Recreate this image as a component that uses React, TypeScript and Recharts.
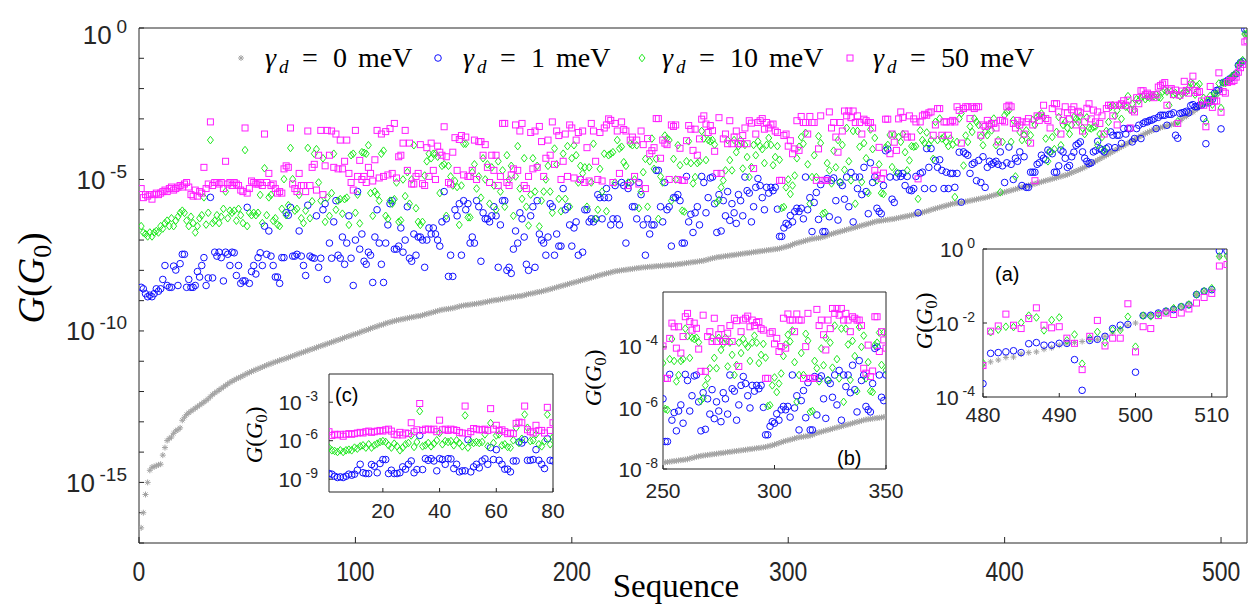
import { CartesianGrid, Scatter, ScatterChart, XAxis, YAxis } from "recharts";

// log10 of G/G0 for every sequence index 1..512 (sorted by the gamma_d = 0 curve)
const gray0 = [
  -16.5, -16.0, -15.4, -15.0, -14.6, -14.5, -14.48, -14.45, -14.42, -14.4,
  -14.1, -13.85, -13.62, -13.55, -13.5, -13.38, -13.3, -13.26, -13.2, -12.95,
  -12.85, -12.76, -12.7, -12.65, -12.6, -12.55, -12.5, -12.45, -12.4, -12.35,
  -12.3, -12.24, -12.17, -12.1, -12.05, -12.0, -11.95, -11.9, -11.85, -11.8,
  -11.75, -11.7, -11.66, -11.62, -11.58, -11.55, -11.52, -11.48, -11.44, -11.4,
  -11.37, -11.34, -11.31, -11.28, -11.25, -11.22, -11.19, -11.16, -11.13, -11.1,
  -11.08, -11.05, -11.02, -11.0, -10.97, -10.95, -10.93, -10.9, -10.88, -10.85,
  -10.83, -10.8, -10.77, -10.75, -10.72, -10.7, -10.67, -10.65, -10.62, -10.6,
  -10.57, -10.55, -10.52, -10.5, -10.47, -10.45, -10.42, -10.4, -10.37, -10.35,
  -10.32, -10.3, -10.27, -10.25, -10.22, -10.2, -10.17, -10.15, -10.12, -10.1,
  -10.08, -10.05, -10.02, -10.0, -9.97, -9.95, -9.92, -9.9, -9.87, -9.85,
  -9.82, -9.8, -9.78, -9.75, -9.73, -9.71, -9.69, -9.67, -9.65, -9.64,
  -9.62, -9.61, -9.59, -9.58, -9.56, -9.55, -9.54, -9.52, -9.51, -9.5,
  -9.48, -9.46, -9.44, -9.42, -9.4, -9.38, -9.36, -9.34, -9.32, -9.3,
  -9.29, -9.28, -9.27, -9.26, -9.25, -9.23, -9.21, -9.19, -9.17, -9.16,
  -9.15, -9.14, -9.13, -9.12, -9.11, -9.1, -9.09, -9.08, -9.06, -9.05,
  -9.03, -9.02, -9.0, -8.99, -8.98, -8.97, -8.96, -8.94, -8.93, -8.92,
  -8.9, -8.89, -8.88, -8.87, -8.86, -8.85, -8.84, -8.82, -8.8, -8.78,
  -8.77, -8.76, -8.74, -8.72, -8.71, -8.7, -8.68, -8.66, -8.64, -8.62,
  -8.6, -8.58, -8.56, -8.54, -8.52, -8.5, -8.48, -8.46, -8.44, -8.42,
  -8.4, -8.38, -8.36, -8.34, -8.32, -8.3, -8.28, -8.26, -8.24, -8.22,
  -8.2, -8.18, -8.16, -8.14, -8.12, -8.1, -8.09, -8.07, -8.05, -8.03,
  -8.02, -8.01, -8.0, -7.99, -7.98, -7.97, -7.96, -7.95, -7.94, -7.93,
  -7.92, -7.91, -7.9, -7.9, -7.89, -7.88, -7.88, -7.87, -7.86, -7.86,
  -7.85, -7.85, -7.84, -7.83, -7.83, -7.82, -7.82, -7.81, -7.8, -7.79,
  -7.78, -7.77, -7.76, -7.75, -7.74, -7.73, -7.72, -7.71, -7.7, -7.69,
  -7.68, -7.66, -7.64, -7.62, -7.6, -7.59, -7.57, -7.56, -7.55, -7.54,
  -7.53, -7.52, -7.51, -7.5, -7.49, -7.48, -7.47, -7.46, -7.45, -7.44,
  -7.43, -7.42, -7.41, -7.4, -7.39, -7.38, -7.37, -7.36, -7.35, -7.34,
  -7.33, -7.32, -7.31, -7.3, -7.29, -7.28, -7.26, -7.24, -7.22, -7.2,
  -7.18, -7.15, -7.12, -7.1, -7.08, -7.06, -7.04, -7.02, -7.0, -6.98,
  -6.96, -6.95, -6.94, -6.93, -6.92, -6.9, -6.88, -6.85, -6.82, -6.8,
  -6.78, -6.76, -6.74, -6.72, -6.7, -6.68, -6.66, -6.64, -6.62, -6.6,
  -6.58, -6.56, -6.54, -6.52, -6.5, -6.48, -6.46, -6.44, -6.42, -6.4,
  -6.38, -6.37, -6.36, -6.35, -6.34, -6.33, -6.32, -6.31, -6.3, -6.28,
  -6.27, -6.25, -6.24, -6.22, -6.21, -6.19, -6.18, -6.16, -6.15, -6.13,
  -6.11, -6.09, -6.07, -6.05, -6.03, -6.0, -5.98, -5.96, -5.94, -5.92,
  -5.9, -5.88, -5.86, -5.84, -5.82, -5.8, -5.79, -5.78, -5.77, -5.76,
  -5.75, -5.73, -5.72, -5.7, -5.69, -5.67, -5.66, -5.64, -5.63, -5.61,
  -5.6, -5.58, -5.56, -5.54, -5.52, -5.5, -5.48, -5.46, -5.44, -5.42,
  -5.4, -5.38, -5.36, -5.34, -5.32, -5.3, -5.28, -5.26, -5.24, -5.22,
  -5.2, -5.18, -5.16, -5.14, -5.12, -5.1, -5.08, -5.06, -5.04, -5.02,
  -5.0, -4.98, -4.96, -4.94, -4.92, -4.9, -4.88, -4.86, -4.84, -4.81,
  -4.78, -4.75, -4.72, -4.69, -4.66, -4.63, -4.6, -4.56, -4.52, -4.48,
  -4.44, -4.4, -4.36, -4.32, -4.28, -4.24, -4.2, -4.16, -4.12, -4.08,
  -4.04, -4.0, -3.96, -3.92, -3.88, -3.84, -3.8, -3.76, -3.72, -3.68,
  -3.64, -3.6, -3.56, -3.52, -3.48, -3.45, -3.42, -3.39, -3.36, -3.33,
  -3.31, -3.29, -3.27, -3.25, -3.23, -3.21, -3.19, -3.17, -3.16,
  -3.15, -3.05, -3.0, -2.93, -2.92, -2.84, -2.8, -2.78, -2.71, -2.67,
  -2.6, -2.55, -2.53, -2.5, -2.45, -2.44, -2.36, -2.27, -2.16, -2.06,
  -2.0, -1.8, -1.79, -1.73, -1.67, -1.6, -1.55, -1.48, -1.23, -1.14,
  -1.1, -0.2, -0.16,
];

const blue1 = [
  -8.56, -8.61, -8.77, -8.87, -8.82, -8.87, -8.77, -8.61, -8.69, -8.61,
  -8.3, -7.84, -8.5, -8.56, -8.56, -7.86, -7.99, -8.5, -7.78, -7.47,
  -7.47, -8.56, -8.3, -8.56, -8.56, -8.5, -8.04, -8.22, -7.84, -7.58,
  -8.5, -8.25, -5.59, -8.25, -7.4, -7.53, -7.4, -7.58, -8.35, -7.4,
  -7.47, -7.84, -7.4, -7.42, -8.17, -7.84, -8.43, -8.35, -8.35, -5.92,
  -8.43, -8.04, -7.84, -8.12, -7.58, -7.42, -7.84, -6.54, -7.47, -6.7,
  -7.53, -7.84, -8.22, -8.22, -8.43, -7.58, -7.58, -6.1, -6.18, -5.92,
  -7.53, -7.53, -7.47, -6.7, -7.53, -7.84, -8.17, -5.85, -7.53, -7.58,
  -7.6, -6.2, -7.9, -7.6, -6.0, -5.8, -8.3, -7.1, -7.6, -6.4,
  -5.7, -7.5, -7.6, -6.9, -7.8, -7.1, -6.2, -7.6, -8.5, -7.0,
  -5.4, -7.3, -6.8, -7.7, -7.8, -7.4, -7.5, -8.4, -6.9, -6.0,
  -7.1, -7.8, -8.4, -7.1, -6.5, -5.8, -5.7, -7.3, -7.3, -7.2,
  -6.6, -7.4, -7.0, -5.9, -7.6, -7.7, -6.8, -7.5, -6.9, -6.9,
  -7.0, -7.9, -7.0, -6.6, -6.8, -6.6, -6.8, -7.0, -7.2, -6.4,
  -5.4, -6.3, -8.2, -7.5, -8.2, -6.0, -6.2, -5.8, -7.5, -5.7,
  -6.0, -5.8, -7.1, -6.9, -7.1, -5.7, -5.9, -7.7, -6.1, -6.3,
  -6.3, -6.4, -6.2, -5.9, -6.2, -7.9, -6.5, -5.7, -5.7, -8.0,
  -7.9, -8.1, -7.3, -6.7, -7.1, -6.1,
  -6.3, -6.9, -7.8, -8.0, -6.2, -5.9, -7.9, -5.7, -6.8, -7.0,
  -7.1, -7.5, -6.9, -5.8, -5.9, -7.5, -6.8, -7.2, -7.2, -5.3,
  -6.0, -5.9, -6.5, -7.2, -6.6, -6.4, -7.5, -5.0, -7.4, -6.0,
  -6.0, -6.4, -6.3, -6.4, -6.3, -5.5, -5.6, -6.3, -5.6, -5.3,
  -5.6, -6.5, -6.3, -5.2, -6.3, -6.5, -5.1, -5.2, -7.1, -5.3,
  -5.1, -5.9, -5.9, -6.3, -5.1, -5.5, -6.5, -7.5, -6.3, -6.8,
  -6.5, -6.5, -4.7, -4.7, -5.9, -6.4, -5.1, -6.0, -5.9, -7.2,
  -5.6, -5.6, -5.5,
  -5.7, -7.1, -7.1, -4.9, -6.4, -6.15, -6.75, -6.1, -5.9, -6.5,
  -4.9, -5.1, -6.1, -5.6, -4.95, -4.92, -5.8, -6.75, -5.5, -6.7,
  -5.7, -6.2, -5.4, -6.35, -5.8, -6.1, -6.45, -5.5, -5.7, -6.2,
  -4.92, -5.37, -5.45, -6.4, -5.9, -5.26, -4.97, -5.2, -5.6, -6.0,
  -5.26, -5.45, -5.26, -5.37, -5.26, -5.98, -6.88, -6.88, -6.6, -6.45,
  -6.5, -6.19, -6.4, -6.06, -5.95, -6.06, -5.95, -6.3, -4.92, -6.0,
  -5.6, -6.72, -5.76, -5.43, -6.32, -5.17, -6.72, -6.72, -4.97, -6.23,
  -5.03, -4.95, -5.7, -6.34, -5.1, -5.2, -5.65, -4.92, -5.9, -4.77,
  -6.4, -4.92, -5.3, -4.92, -5.5, -4.6, -5.4, -6.13, -4.45, -5.1,
  -4.92, -5.95, -6.06, -6.13, -5.2, -4.05, -4.0, -4.92, -5.65, -5.76,
  -4.92,
  -4.8, -4.9, -4.8, -5.2, -4.9, -5.35, -5.37, -5.3, -4.9, -6.1,
  -4.8, -4.76, -5.3, -3.98, -4.6, -3.98, -5.3, -4.37, -4.6, -4.35,
  -4.7, -5.3, -4.76, -5.3, -4.8, -4.8, -5.26, -4.8, -4.1, -5.75,
  -4.09, -4.15, -4.2, -4.8, -4.5, -4.45, -5.04, -4.37, -5.1, -4.25,
  -5.26, -4.6, -4.4, -4.5, -4.45, -4.4, -4.5, -4.09, -4.55, -5.1,
  -4.45, -3.93, -4.5, -5.0, -4.3, -4.4, -4.09, -5.2, -4.25, -5.26,
  -5.26, -4.76, -4.76, -4.76, -4.5, -4.45, -4.2, -4.3, -4.35, -4.03,
  -4.09, -4.15, -4.76, -4.76, -4.55, -4.03, -4.09, -4.3, -4.6, -4.54,
  -4.25, -4.1, -3.87, -3.82, -3.76, -4.09, -4.3, -4.4,
  -4.48, -4.45, -4.09, -4.05, -3.74, -3.98, -4.03, -4.09, -3.98, -3.93,
  -3.43, -3.54, -3.95, -3.54, -3.54, -3.81, -3.32, -3.5, -3.32, -3.32,
  -3.76, -3.65, -3.32, -3.21, -3.65, -3.15, -3.1, -3.1, -3.05, -3.04,
  -3.0, -3.32, -2.95, -2.88, -2.88, -2.88, -3.21, -2.85, -2.85, -2.8, -3.54,
  -3.64, -2.82, -2.8, -2.78, -2.75, -2.8, -2.56, -2.53, -2.6, -2.6,
  -2.55, -2.55, -2.99, -3.82, -2.47, -2.44, -2.36, -2.15, -2.06, -2.04,
  -3.33, -1.8, -1.79, -1.73, -1.68, -1.64, -1.56, -1.51, -1.23, -1.14,
  -1.1, -0.05, -0.05,
];

const green10 = [
  -6.54, -6.75, -6.8, -6.88, -6.75, -6.88, -6.75, -6.7, -6.75, -6.54,
  -6.62, -6.44, -6.36, -6.54, -6.28, -6.54, -6.36, -6.23, -6.1, -6.03,
  -6.1, -6.36, -6.54, -6.23, -6.44, -6.75, -6.54, -6.28, -6.18, -5.59,
  -6.49, -6.1, -3.7, -6.44, -6.36, -6.18, -6.44, -6.23, -5.97, -5.4,
  -6.28, -6.03, -6.1, -6.03, -6.36, -5.97, -6.18, -6.44, -4.03, -6.54,
  -6.1, -6.18, -6.1, -6.18, -6.1, -5.51, -6.44, -4.63, -6.18, -5.59,
  -5.51, -6.36, -6.28, -6.49, -6.54, -5.97, -4.99, -6.18, -5.85, -3.96,
  -4.99, -6.03, -5.97, -5.51, -6.28, -6.44, -6.03, -3.96, -6.28, -5.72,
  -4.15, -4.0, -5.1, -5.7, -4.3, -6.4, -5.6, -6.2, -5.45, -4.15,
  -6.0, -5.7, -5.65, -6.13, -5.65, -5.6, -6.5, -4.2, -4.15, -6.1,
  -5.5, -6.45, -4.1, -4.12, -4.15, -3.87, -5.45, -6.2, -5.4, -5.5,
  -5.7, -4.15, -4.05, -6.2, -6.3, -5.7, -5.8, -5.65, -5.1, -6.4,
  -6.35, -5.0, -5.55, -4.76, -5.8, -5.0, -3.87, -5.95, -6.4, -6.5,
  -6.4, -4.87, -4.4, -4.15, -4.3, -4.15, -4.15, -4.25, -5.45, -4.55,
  -4.5, -6.2, -4.55, -4.9, -5.2, -5.05, -5.25, -6.5, -5.2, -3.82,
  -3.82, -6.25, -6.25, -4.76, -4.5, -5.3, -4.9, -5.6, -4.3, -5.0,
  -4.5, -5.8, -4.6, -5.2, -6.0, -4.4, -5.4, -4.7, -5.9, -4.2,
  -5.0, -4.55, -6.2, -4.9, -3.9, -5.3,
  -5.64, -4.3, -5.9, -6.52, -5.5, -4.3, -5.4, -4.55, -6.55, -5.7,
  -5.4, -5.0, -4.55, -5.4, -6.1, -3.98, -4.5, -5.64, -6.05, -4.15,
  -5.64, -3.9, -5.9, -4.3, -3.87, -4.2, -5.1, -4.55, -4.8, -4.6,
  -5.9, -4.6, -5.1, -3.82, -6.3, -6.0, -4.65, -5.4, -4.15, -6.05,
  -4.2, -4.15, -4.1, -5.1, -3.7, -3.98, -3.92, -4.43, -4.55, -5.1,
  -3.82, -3.87, -5.0, -3.87, -5.95, -5.4, -4.76, -4.32, -5.9, -4.4,
  -3.65, -4.65, -4.32, -6.3, -4.9, -5.1, -3.55, -3.65, -3.7, -5.7,
  -4.32, -5.0, -3.87,
  -4.53, -6.03, -6.06, -4.4, -3.74, -4.46, -5.13, -4.92, -4.46, -4.4,
  -3.4, -3.65, -4.36, -3.7, -3.74, -3.7, -3.85, -5.76, -5.68, -5.26,
  -5.03, -4.7, -3.7, -4.36, -4.7, -3.7, -4.1, -3.9, -3.7, -4.64,
  -3.86, -4.26, -4.92, -4.59, -3.86, -4.2, -3.74, -3.9, -4.0, -4.46,
  -3.86, -3.63, -3.86, -4.53, -4.26, -3.9, -4.35, -5.94, -5.91, -5.26,
  -5.0, -5.48, -5.2, -4.87, -4.3, -3.92, -3.6, -3.82, -3.46, -4.5,
  -5.8, -4.92, -4.2, -4.92, -3.57, -3.8, -6.13, -6.1, -4.46, -4.7,
  -5.13, -4.05, -4.6, -3.7, -5.08, -3.86, -4.68, -3.3, -4.4, -5.03,
  -3.4, -5.8, -3.4, -3.92, -5.08, -3.8, -4.3, -5.45, -3.35, -4.0,
  -3.63, -5.03, -4.5, -5.45, -5.48, -3.94, -3.86, -3.53, -4.59, -3.53,
  -4.76,
  -3.6, -3.76, -3.5, -4.1, -4.7, -4.37, -3.9, -3.92, -3.9, -5.64,
  -3.38, -3.7, -3.8, -3.45, -3.85, -3.7, -4.32, -3.1, -3.7, -2.99,
  -3.65, -3.6, -3.76, -3.9, -3.65, -3.85, -5.58, -3.76, -2.99, -2.82,
  -4.54, -3.55, -3.76, -3.25, -3.43, -2.99, -3.1, -3.2, -3.6, -3.87,
  -3.43, -3.54, -3.2, -3.38, -2.99, -3.87, -3.7, -5.42, -3.76, -2.88,
  -2.77, -2.72, -3.76, -3.04, -4.9, -3.2, -3.43, -3.7, -3.54, -3.38,
  -3.76, -3.54, -3.04, -3.2, -2.94, -2.88, -2.82, -2.94, -3.65, -4.4,
  -4.09, -3.6, -4.0, -3.43, -2.94, -3.87, -3.2, -3.1, -3.3, -3.5,
  -3.2, -2.94, -3.0, -3.1, -2.9, -3.3, -3.5, -2.95,
  -3.3, -3.32, -3.28, -3.25, -3.87, -3.5, -3.6, -4.03, -3.4, -3.1,
  -2.6, -2.55, -2.9, -2.72, -2.55, -3.0, -2.55, -2.6, -2.25, -2.7,
  -2.5, -2.7, -2.35, -2.4, -2.3, -2.25, -2.35, -2.28, -2.3, -2.25,
  -2.25, -2.2, -2.28, -2.3, -2.1, -2.05, -2.1, -2.55, -2.1, -2.2, -2.15,
  -3.08, -2.25, -2.18, -2.1, -2.11, -1.99, -1.8, -1.85, -2.2, -1.92,
  -1.85, -2.47, -2.31, -3.1, -2.41, -2.24, -2.53, -2.19, -2.19, -1.83,
  -2.64, -1.8, -1.82, -1.76, -1.69, -1.6, -1.56, -1.5, -1.23, -1.14,
  -1.06, -0.2, -0.19,
];

const magenta50 = [
  -5.3, -5.6, -5.5, -5.55, -5.5, -5.65, -5.5, -5.45, -5.5, -5.45,
  -5.4, -5.35, -5.4, -5.3, -5.25, -5.35, -5.3, -5.25, -5.2, -5.25,
  -5.15, -5.1, -5.25, -5.5, -5.55, -5.35, -5.55, -5.4, -5.45, -4.6,
  -5.3, -5.15, -3.1, -5.2, -5.1, -5.1, -5.15, -5.1, -5.3, -4.4,
  -5.15, -5.1, -5.2, -5.1, -5.15, -5.2, -5.35, -5.4, -3.3, -5.45,
  -5.3, -5.05, -5.1, -5.15, -5.15, -5.1, -5.2, -3.5, -5.1, -4.8,
  -5.2, -5.15, -5.3, -5.45, -5.4, -5.45, -4.65, -4.55, -4.6, -3.3,
  -5.15, -5.3, -5.4, -4.8, -5.2, -5.2, -5.4, -3.4, -5.2, -4.6,
  -4.5, -5.35, -4.2, -3.38, -5.5, -4.55, -3.38, -4.2, -3.4, -4.6,
  -3.5, -4.65, -3.7, -4.65, -4.4, -3.7, -4.8, -5.1, -5.35, -3.38,
  -4.9, -4.37, -5.0, -4.9, -5.1, -4.6, -4.8, -5.05, -4.35, -3.38,
  -4.95, -3.5, -4.9, -3.42, -4.85, -3.32, -4.8, -3.15, -4.95, -4.25,
  -4.2, -3.8, -3.38, -4.7, -3.8, -5.15, -5.15, -4.9, -4.8, -3.85,
  -5.14, -5.2, -3.95, -4.9, -3.8, -4.7, -5.0, -3.9, -4.1, -4.2,
  -3.26, -4.25, -5.1, -5.15, -4.1, -3.62, -4.7, -3.68, -3.55, -4.85,
  -3.6, -4.9, -4.9, -4.7, -3.7, -5.0, -3.75, -3.75, -4.2, -3.85,
  -4.6, -5.1, -4.2, -4.7, -4.2, -5.2, -4.9, -3.15, -3.15, -5.1,
  -5.2, -4.85, -4.65, -3.2, -4.7, -3.4,
  -3.15, -5.2, -5.3, -4.9, -3.45, -4.65, -3.4, -4.6, -3.25, -3.75,
  -4.9, -4.3, -3.7, -4.2, -3.1, -4.5, -3.4, -3.55, -5.0, -4.4,
  -3.5, -4.9, -3.2, -3.3, -4.95, -3.7, -3.45, -5.0, -3.4, -5.1,
  -3.95, -5.05, -3.15, -3.4, -4.4, -5.0, -3.45, -5.05, -3.3, -3.2,
  -3.0, -3.05, -5.1, -3.15, -3.4, -4.8, -3.1, -3.35, -3.4, -5.2,
  -3.7, -3.6, -4.9, -3.7, -5.15, -3.4, -3.85, -5.3, -3.65, -4.15,
  -4.05, -3.95, -2.99, -2.99, -4.3, -3.7, -3.8, -3.85, -5.0, -3.2,
  -3.25, -3.2, -5.0,
  -3.97, -5.03, -5.03, -3.72, -3.22, -3.34, -4.04, -3.34, -4.2, -3.66,
  -3.01, -2.9, -3.17, -3.45, -3.22, -3.39, -4.07, -4.8, -2.96, -4.8,
  -3.66, -3.5, -3.82, -3.06, -3.82, -3.6, -3.4, -3.82, -3.82, -3.55,
  -3.3, -3.82, -3.06, -3.14, -4.64, -3.5, -3.12, -3.06, -2.99, -3.34,
  -3.12, -3.3, -3.2, -3.17, -3.4, -3.45, -5.03, -5.03, -3.55, -3.5,
  -3.9, -3.72, -4.15, -3.99, -3.06, -4.04, -2.92, -3.12, -3.12, -3.5,
  -2.92, -3.12, -3.12, -5.03, -3.99, -2.9, -5.03, -5.03, -5.03, -2.77,
  -3.3, -3.12, -3.6, -4.1, -3.12, -3.4, -2.74, -2.9, -2.74, -2.96,
  -2.74, -3.12, -2.9, -3.12, -3.5, -3.01, -3.06, -3.12, -3.12, -3.3,
  -4.7, -4.86, -3.94, -4.97, -4.79, -3.01, -3.01, -4.15, -3.5, -3.77,
  -4.04,
  -3.0, -2.77, -2.95, -3.5, -3.6, -2.9, -3.6, -3.0, -3.1, -4.98,
  -3.1, -2.9, -2.85, -2.88, -2.8, -2.77, -3.54, -3.2, -2.66, -2.66,
  -3.54, -3.1, -3.1, -3.54, -3.1, -3.05, -3.1, -2.6, -2.72, -3.8,
  -2.66, -2.6, -2.6, -2.99, -2.6, -2.66, -2.6, -2.6, -3.54, -3.2,
  -3.25, -3.05, -3.2, -3.15, -3.15, -3.3, -3.76, -3.05, -3.05, -3.1,
  -2.6, -2.55, -2.6, -3.15, -3.3, -3.05, -3.2, -3.1, -3.5, -3.1,
  -2.99, -3.8, -3.2, -5.04, -2.9, -3.05, -2.9, -2.55, -2.99, -3.05,
  -3.3, -2.66, -2.5, -2.5, -2.77, -3.5, -3.05, -2.6, -2.8, -3.0,
  -2.7, -2.6, -3.2, -2.75, -2.8, -3.4, -3.1, -2.65,
  -2.5, -3.0, -2.71, -3.1, -2.77, -3.15, -2.9, -3.5, -2.66, -2.55,
  -2.55, -2.9, -2.55, -3.2, -2.55, -2.5, -2.4, -2.55, -2.38, -3.3,
  -2.7, -2.77, -2.3, -2.5, -2.07, -2.07, -2.2, -2.15, -2.25, -2.2,
  -2.3, -2.2, -1.95, -1.9, -1.85, -1.8, -2.55, -2.05, -2.0, -2.2, -2.05,
  -3.15, -2.22, -2.08, -1.76, -2.06, -2.15, -1.88, -1.59, -2.06, -2.13,
  -2.1, -2.41, -2.55, -3.26, -2.36, -1.93, -2.62, -2.41, -2.41, -1.48,
  -2.78, -2.1, -2.15, -1.8, -1.73, -1.77, -1.73, -1.62, -1.46, -1.31,
  -1.2, -0.46, -0.42,
];

const mainXTicks = [0, 100, 200, 300, 400, 500];
const mainYExp = [-17, -16, -15, -14, -13, -12, -11, -10, -9, -8, -7, -6, -5, -4, -3, -2, -1, 0];
const mainYLabels = [0, -5, -10, -15];

const cXTicks = [20, 40, 60, 80];
const cYExp = [-9, -6, -3];
const bXTicks = [250, 300, 350];
const bYExp = [-8, -6, -4];
const aXTicks = [480, 490, 500, 510];
const aYExp = [-4, -2, 0];

const GRAY = "#a3a3a3";
const BLUE = "#1010ff";
const GREEN = "#1ee81e";
const MAGENTA = "#ff1eff";
const AX = "#262626";
const SANS = "'Liberation Sans', Arial, sans-serif";
const SERIF = "'Liberation Serif', 'Times New Roman', serif";

const toPoints = (arr: number[], from: number, to: number) =>
  arr
    .map((v, i) => ({ x: i + 1, y: Math.pow(10, v) }))
    .filter((p) => p.x >= from && p.x <= to);

function StarMark(p: any) {
  const { cx, cy } = p;
  const r = 3;
  const d = 2.1;
  return (
    <path
      d={`M${cx - r},${cy}H${cx + r}M${cx},${cy - r}V${cy + r}M${cx - d},${cy - d}L${cx + d},${cy + d}M${cx - d},${cy + d}L${cx + d},${cy - d}`}
      stroke={GRAY}
      strokeWidth={1}
      fill="none"
    />
  );
}
function CircleMark(p: any) {
  return <circle cx={p.cx} cy={p.cy} r={3.3} stroke={BLUE} strokeWidth={1} fill="none" />;
}
function DiamondMark(p: any) {
  const { cx, cy } = p;
  return (
    <path
      d={`M${cx},${cy - 3.8}L${cx + 3},${cy}L${cx},${cy + 3.8}L${cx - 3},${cy}Z`}
      stroke={GREEN}
      strokeWidth={1}
      fill="none"
    />
  );
}
function SquareMark(p: any) {
  return <rect x={p.cx - 3} y={p.cy - 3} width={6} height={6} stroke={MAGENTA} strokeWidth={1} fill="none" />;
}

// "10" with a raised exponent, only for the labelled decades
const powTick = (labels: number[], fs: number, sfs: number, rise: number, topShift = 0) => (props: any) => {
  const { x, y, payload } = props;
  const e = Math.round(Math.log10(payload.value));
  if (!labels.includes(e)) return <g />;
  const shift = e === 0 ? topShift : 0;
  return (
    <text x={x} y={y + fs * 0.36 + shift} textAnchor="end" fontFamily={SANS} fontSize={fs} fill={AX}>
      10
      <tspan dx={fs * 0.18} dy={-rise} fontSize={sfs}>
        {e}
      </tspan>
    </text>
  );
};

const numTick = (fs: number, squeeze = 1) => (props: any) => (
  <text
    transform={`translate(${props.x},${props.y + fs * 0.72}) scale(${squeeze},1)`}
    textAnchor="middle"
    fontFamily={SANS}
    fontSize={fs}
    fill={AX}
  >
    {props.payload.value}
  </text>
);

function Inset(props: {
  left: number;
  top: number;
  width: number;
  height: number;
  plotLeft: number;
  plotTop: number;
  plotRight: number;
  plotBottom: number;
  xDomain: [number, number];
  yDomain: [number, number];
  xTicks: number[];
  yExp: number[];
  xGap: number;
  yGap: number;
}) {
  const { xDomain, yDomain } = props;
  const [from, to] = xDomain;
  const yTicks = props.yExp.map((e) => Math.pow(10, e));
  return (
    <div style={{ position: "absolute", left: props.left, top: props.top }}>
      <ScatterChart
        width={props.width}
        height={props.height}
        margin={{
          top: props.plotTop - props.top - 1,
          right: props.left + props.width - props.plotRight - 1,
          bottom: 0,
          left: 0,
        }}
      >
        <CartesianGrid xAxisId="b" yAxisId="l" fill="#ffffff" horizontal={false} vertical={false} />
        <XAxis
          xAxisId="b"
          type="number"
          dataKey="x"
          domain={xDomain}
          ticks={props.xTicks}
          interval={0}
          allowDataOverflow
          height={props.top + props.height - props.plotBottom}
          stroke={AX}
          tickSize={-4}
          tickMargin={4 + props.xGap}
          tick={numTick(21)}
        />
        <XAxis
          xAxisId="t"
          orientation="top"
          type="number"
          dataKey="x"
          domain={xDomain}
          ticks={props.xTicks}
          interval={0}
          allowDataOverflow
          height={1}
          stroke={AX}
          tickSize={-4}
          tick={false}
        />
        <YAxis
          yAxisId="l"
          type="number"
          dataKey="y"
          scale="log"
          domain={yDomain}
          ticks={yTicks}
          interval={0}
          allowDataOverflow
          width={props.plotLeft - props.left}
          stroke={AX}
          tickSize={-4}
          tickMargin={4 + props.yGap}
          tick={powTick(props.yExp, 21, 14, 9)}
        />
        <YAxis
          yAxisId="r"
          orientation="right"
          type="number"
          dataKey="y"
          scale="log"
          domain={yDomain}
          ticks={yTicks}
          interval={0}
          allowDataOverflow
          width={1}
          stroke={AX}
          tickSize={-4}
          tick={false}
        />
        <Scatter xAxisId="b" yAxisId="l" data={toPoints(gray0, from, to)} shape={StarMark} isAnimationActive={false} />
        <Scatter xAxisId="b" yAxisId="l" data={toPoints(blue1, from, to)} shape={CircleMark} isAnimationActive={false} />
        <Scatter xAxisId="b" yAxisId="l" data={toPoints(green10, from, to)} shape={DiamondMark} isAnimationActive={false} />
        <Scatter xAxisId="b" yAxisId="l" data={toPoints(magenta50, from, to)} shape={SquareMark} isAnimationActive={false} />
      </ScatterChart>
    </div>
  );
}

function GLabel({ x, y, fs }: { x: number; y: number; fs: number }) {
  return (
    <text
      transform={`translate(${x},${y}) rotate(-90)`}
      textAnchor="middle"
      fontFamily={SERIF}
      fontSize={fs}
      fill="#000"
    >
      <tspan fontStyle="italic">G</tspan>(<tspan fontStyle="italic">G</tspan>
      <tspan dy={fs * 0.2} fontSize={fs * 0.7}>
        0
      </tspan>
      <tspan dy={-fs * 0.2}>)</tspan>
    </text>
  );
}

const legendItems = [
  { mx: 241, tx: 265, value: "0", mark: "star" },
  { mx: 438, tx: 463, value: "1", mark: "circle" },
  { mx: 642, tx: 662, value: "10", mark: "diamond" },
  { mx: 850, tx: 873, value: "50", mark: "square" },
];

function LegendMark({ kind, x, y }: { kind: string; x: number; y: number }) {
  if (kind === "star") return <StarMark cx={x} cy={y} />;
  if (kind === "circle") return <CircleMark cx={x} cy={y} />;
  if (kind === "diamond") return <DiamondMark cx={x} cy={y} />;
  return <SquareMark cx={x} cy={y} />;
}

export default function App() {
  const mainYTicks = mainYExp.map((e) => Math.pow(10, e));
  return (
    <div style={{ position: "absolute", left: 0, top: 0, width: 1248, height: 605, background: "#fff", overflow: "hidden" }}>
      <ScatterChart width={1248} height={605} margin={{ top: 27, right: 0, bottom: 0, left: 0 }}>
        <XAxis
          xAxisId="b"
          type="number"
          dataKey="x"
          domain={[0, 512]}
          ticks={mainXTicks}
          interval={0}
          allowDataOverflow
          height={62}
          stroke={AX}
          tickSize={-6}
          tickMargin={6 + 18}
          tick={numTick(28, 0.82)}
        />
        <XAxis
          xAxisId="t"
          orientation="top"
          type="number"
          dataKey="x"
          domain={[0, 512]}
          ticks={mainXTicks}
          interval={0}
          allowDataOverflow
          height={1}
          stroke={AX}
          tickSize={-6}
          tick={false}
        />
        <YAxis
          yAxisId="l"
          type="number"
          dataKey="y"
          scale="log"
          domain={[1e-17, 1]}
          ticks={mainYTicks}
          interval={0}
          allowDataOverflow
          width={139}
          stroke={AX}
          tickSize={-5}
          tickMargin={5 + 12}
          tick={powTick(mainYLabels, 26, 19, 11, 7)}
        />
        <YAxis
          yAxisId="r"
          orientation="right"
          type="number"
          dataKey="y"
          scale="log"
          domain={[1e-17, 1]}
          ticks={mainYTicks}
          interval={0}
          allowDataOverflow
          width={1}
          stroke={AX}
          tickSize={-5}
          tick={false}
        />
        <Scatter xAxisId="b" yAxisId="l" data={toPoints(gray0, 1, 512)} shape={StarMark} isAnimationActive={false} />
        <Scatter xAxisId="b" yAxisId="l" data={toPoints(blue1, 1, 512)} shape={CircleMark} isAnimationActive={false} />
        <Scatter xAxisId="b" yAxisId="l" data={toPoints(green10, 1, 512)} shape={DiamondMark} isAnimationActive={false} />
        <Scatter xAxisId="b" yAxisId="l" data={toPoints(magenta50, 1, 512)} shape={SquareMark} isAnimationActive={false} />
      </ScatterChart>

      <Inset
        left={240} top={362} width={335} height={167}
        plotLeft={329} plotTop={374} plotRight={553} plotBottom={492}
        xDomain={[1, 80]} yDomain={[1e-10, Math.pow(10, -0.8)]}
        xTicks={cXTicks} yExp={cYExp} xGap={11} yGap={11}
      />
      <Inset
        left={575} top={280} width={335} height={222}
        plotLeft={663} plotTop={292} plotRight={886} plotBottom={469}
        xDomain={[250, 350]} yDomain={[1e-8, Math.pow(10, -2.2)]}
        xTicks={bXTicks} yExp={bYExp} xGap={14} yGap={5}
      />
      <Inset
        left={912} top={228} width={336} height={201}
        plotLeft={983} plotTop={249} plotRight={1227} plotBottom={397}
        xDomain={[480, 512]} yDomain={[1e-4, 1]}
        xTicks={aXTicks} yExp={aYExp} xGap={10} yGap={8}
      />

      <svg width={1248} height={605} style={{ position: "absolute", left: 0, top: 0, pointerEvents: "none" }}>
        {legendItems.map((it) => (
          <g key={it.value}>
            <LegendMark kind={it.mark} x={it.mx} y={58} />
            <text x={it.tx} y={67} fontFamily={SERIF} fontSize={28} fontStyle="italic" fill="#000">
              γ
            </text>
            <text x={it.tx + 14} y={73} fontFamily={SERIF} fontSize={19} fontStyle="italic" fill="#000">
              d
            </text>
            <text x={it.tx + 37} y={67} fontFamily={SERIF} fontSize={28} fill="#000">
              =
            </text>
            <text x={it.tx + 68} y={67} fontFamily={SERIF} fontSize={28} fill="#000">
              {it.value}
            </text>
            <text x={it.tx + 68 + 14 * it.value.length + 11} y={67} fontFamily={SERIF} fontSize={28} fill="#000">
              meV
            </text>
          </g>
        ))}
        <GLabel x={44} y={278} fs={37} />
        <text x={676} y={597} textAnchor="middle" fontFamily={SERIF} fontSize={33} fill="#000">
          Sequence
        </text>
        <GLabel x={262} y={435} fs={23} />
        <GLabel x={601} y={378} fs={23} />
        <GLabel x={932} y={321} fs={23} />
        <text x={335} y={402} fontFamily={SANS} fontSize={20} fill="#000">(c)</text>
        <text x={837} y={465} fontFamily={SANS} fontSize={20} fill="#000">(b)</text>
        <text x={995} y={281} fontFamily={SANS} fontSize={20} fill="#000">(a)</text>
      </svg>
    </div>
  );
}
